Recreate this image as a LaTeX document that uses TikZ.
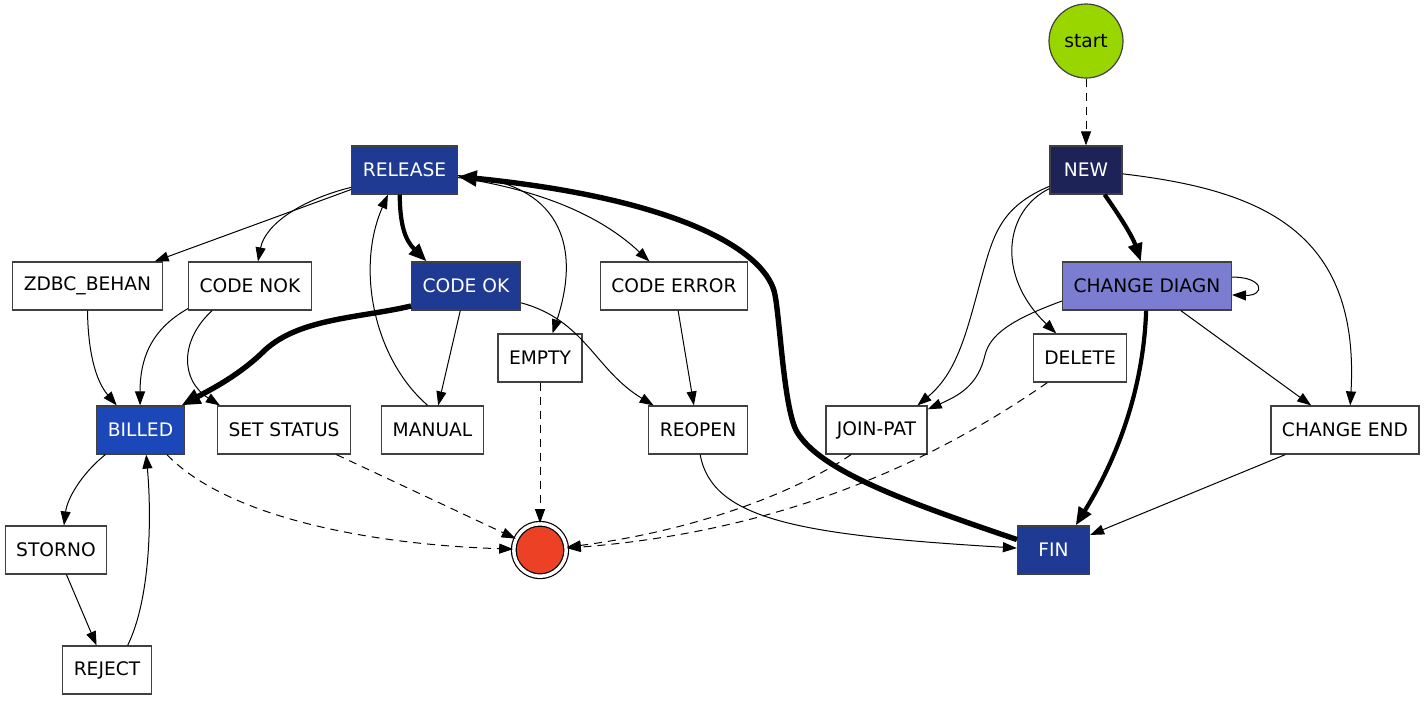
\documentclass[tikz,border=0pt]{standalone}
\usepackage{fontspec}
\setmainfont{DejaVu Sans}
\usetikzlibrary{arrows.meta}

\definecolor{startgreen}{HTML}{99D600}
\definecolor{endred}{HTML}{EC4125}
\definecolor{newblue}{HTML}{1D2356}
\definecolor{relblue}{HTML}{1F3A93}
\definecolor{billblue}{HTML}{1B47B9}
\definecolor{diagblue}{HTML}{7B7DD0}

\begin{document}
\begin{tikzpicture}[x=0.5pt, y=-0.5pt,
    every node/.style={font=\fontsize{9.33}{11}\selectfont},
    state/.style={draw=black!75, line width=0.6pt, rectangle, minimum width=36pt, minimum height=24pt, inner xsep=5.5pt},
    darkstate/.style={state, fill=#1, text=white},
    edge/.style={line width=0.5pt, -{Triangle[length=7pt,width=5pt]}},
    dashededge/.style={edge, dash pattern=on 4pt off 3pt},
    bold/.style={line width=2.1pt, -{Triangle[length=9pt,width=7pt]}},
    heavy/.style={line width=2.7pt, -{Triangle[length=9.5pt,width=7.5pt]}}]
    \useasboundingbox (0,0) rectangle (1427,702);

    % Draw the start and end states
    \node[circle, draw=black!75, line width=0.6pt, fill=startgreen, minimum size=37pt, inner sep=0pt] (start) at (1086,41) {start};
    \node[circle, draw, line width=0.6pt, fill=endred, double, double distance=1.75pt, minimum size=26.25pt, inner sep=0pt] (final) at (540,550) {};

    % Draw the states
    \node[darkstate=newblue] (new) at (1086,170) {NEW};
    \node[darkstate=relblue] (rel) at (404.5,170) {RELEASE};
    \node[state] (zdbc) at (87.5,286) {ZDBC\_BEHAN};
    \node[state] (nok) at (250,286) {CODE NOK};
    \node[darkstate=relblue] (ok) at (466,286) {CODE OK};
    \node[state] (err) at (674,286) {CODE ERROR};
    \node[state, fill=diagblue] (diag) at (1147,286) {CHANGE DIAGN};
    \node[state] (empty) at (540,358) {EMPTY};
    \node[state] (del) at (1080,358) {DELETE};
    \node[darkstate=billblue] (billed) at (140.5,430) {BILLED};
    \node[state] (setst) at (284,430) {SET STATUS};
    \node[state] (manual) at (432.5,430) {MANUAL};
    \node[state] (reopen) at (698,430) {REOPEN};
    \node[state] (join) at (876.5,430) {JOIN-PAT};
    \node[state] (chend) at (1345,430) {CHANGE END};
    \node[state] (storno) at (56,550) {STORNO};
    \node[darkstate=relblue] (fin) at (1053.5,550) {FIN};
    \node[state] (reject) at (107,670) {REJECT};

    % Draw the transitions out of NEW
    \draw[dashededge] (start) -- (new);
    \draw[bold] (new.-53) .. controls (1117,212) and (1132,235) .. (diag.104);
    \draw[edge] (new.207) .. controls (1005,210) and (995,275) .. (del.134);
    \draw[edge] (new.204) .. controls (1005,205) and (995,230) .. (985,265) .. controls (968,325) and (960,370) .. (join.31);
    \draw[edge] (new.-6) .. controls (1260,190) and (1360,230) .. (chend.78);

    % Draw the transitions out of CHANGE DIAGN
    \draw[edge] (diag.6) .. controls (1265,277) and (1265,296) .. (diag.-6);
    \draw[edge] (diag.190) .. controls (1010,320) and (990,335) .. (985,355) .. controls (978,385) and (960,395) .. (join.22);
    \draw[edge] (diag) -- (chend);
    \draw[bold] (diag.-92) .. controls (1143,400) and (1110,470) .. (fin.48);
    \draw[edge] (chend) -- (fin);

    % Draw the way back from FIN to RELEASE
    \draw[heavy] (fin.164) .. controls (900,500) and (820,470) .. (797,432) .. controls (784,410) and (780,320) .. (775,295) .. controls (768,255) and (690,200) .. (rel.-7);

    % Draw the transitions out of RELEASE
    \draw[bold] (rel.-101) .. controls (400,225) and (405,240) .. (ok.148);
    \draw[edge] (rel) -- (zdbc);
    \draw[edge] (rel.198) .. controls (300,200) and (265,225) .. (nok.72);
    \draw[edge] (rel.-6) .. controls (550,180) and (585,235) .. (empty.63);
    \draw[edge] (rel.-8.5) .. controls (540,190) and (600,215) .. (err.135);
    \draw[edge] (manual.101) .. controls (375,360) and (355,270) .. (rel.-124);

    % Draw the transitions out of the code states
    \draw[heavy] (ok.200) .. controls (360,318) and (300,318) .. (265,350) .. controls (240,375) and (210,390) .. (billed.31);
    \draw[edge] (ok) -- (manual);
    \draw[edge] (ok.-17) .. controls (585,320) and (595,370) .. (reopen.151);
    \draw[edge] (err) -- (reopen);
    \draw[edge] (reopen.-85) .. controls (712,520) and (800,535) .. (fin.177);
    \draw[edge] (nok.200) .. controls (150,330) and (140,360) .. (billed.91);
    \draw[edge] (nok.213) .. controls (180,340) and (180,380) .. (setst.159);
    \draw[edge] (zdbc.south) .. controls (88,350) and (95,380) .. (billed.134);

    % Draw the billing loop
    \draw[edge] (billed.215) .. controls (80,475) and (67,500) .. (storno.72);
    \draw[edge] (storno) -- (reject);
    \draw[edge] (reject.50) .. controls (150,600) and (152,520) .. (billed.-77);

    % Draw the transitions into the end state
    \draw[dashededge] (empty) -- (final);
    \draw[dashededge] (billed.-43) .. controls (230,520) and (380,545) .. (final.178);
    \draw[dashededge] (setst) -- (final);
    \draw[dashededge] (join.224) .. controls (800,490) and (700,530) .. (final.6);
    \draw[dashededge] (del.217) .. controls (950,450) and (800,530) .. (final.4);
\end{tikzpicture}
\end{document}
